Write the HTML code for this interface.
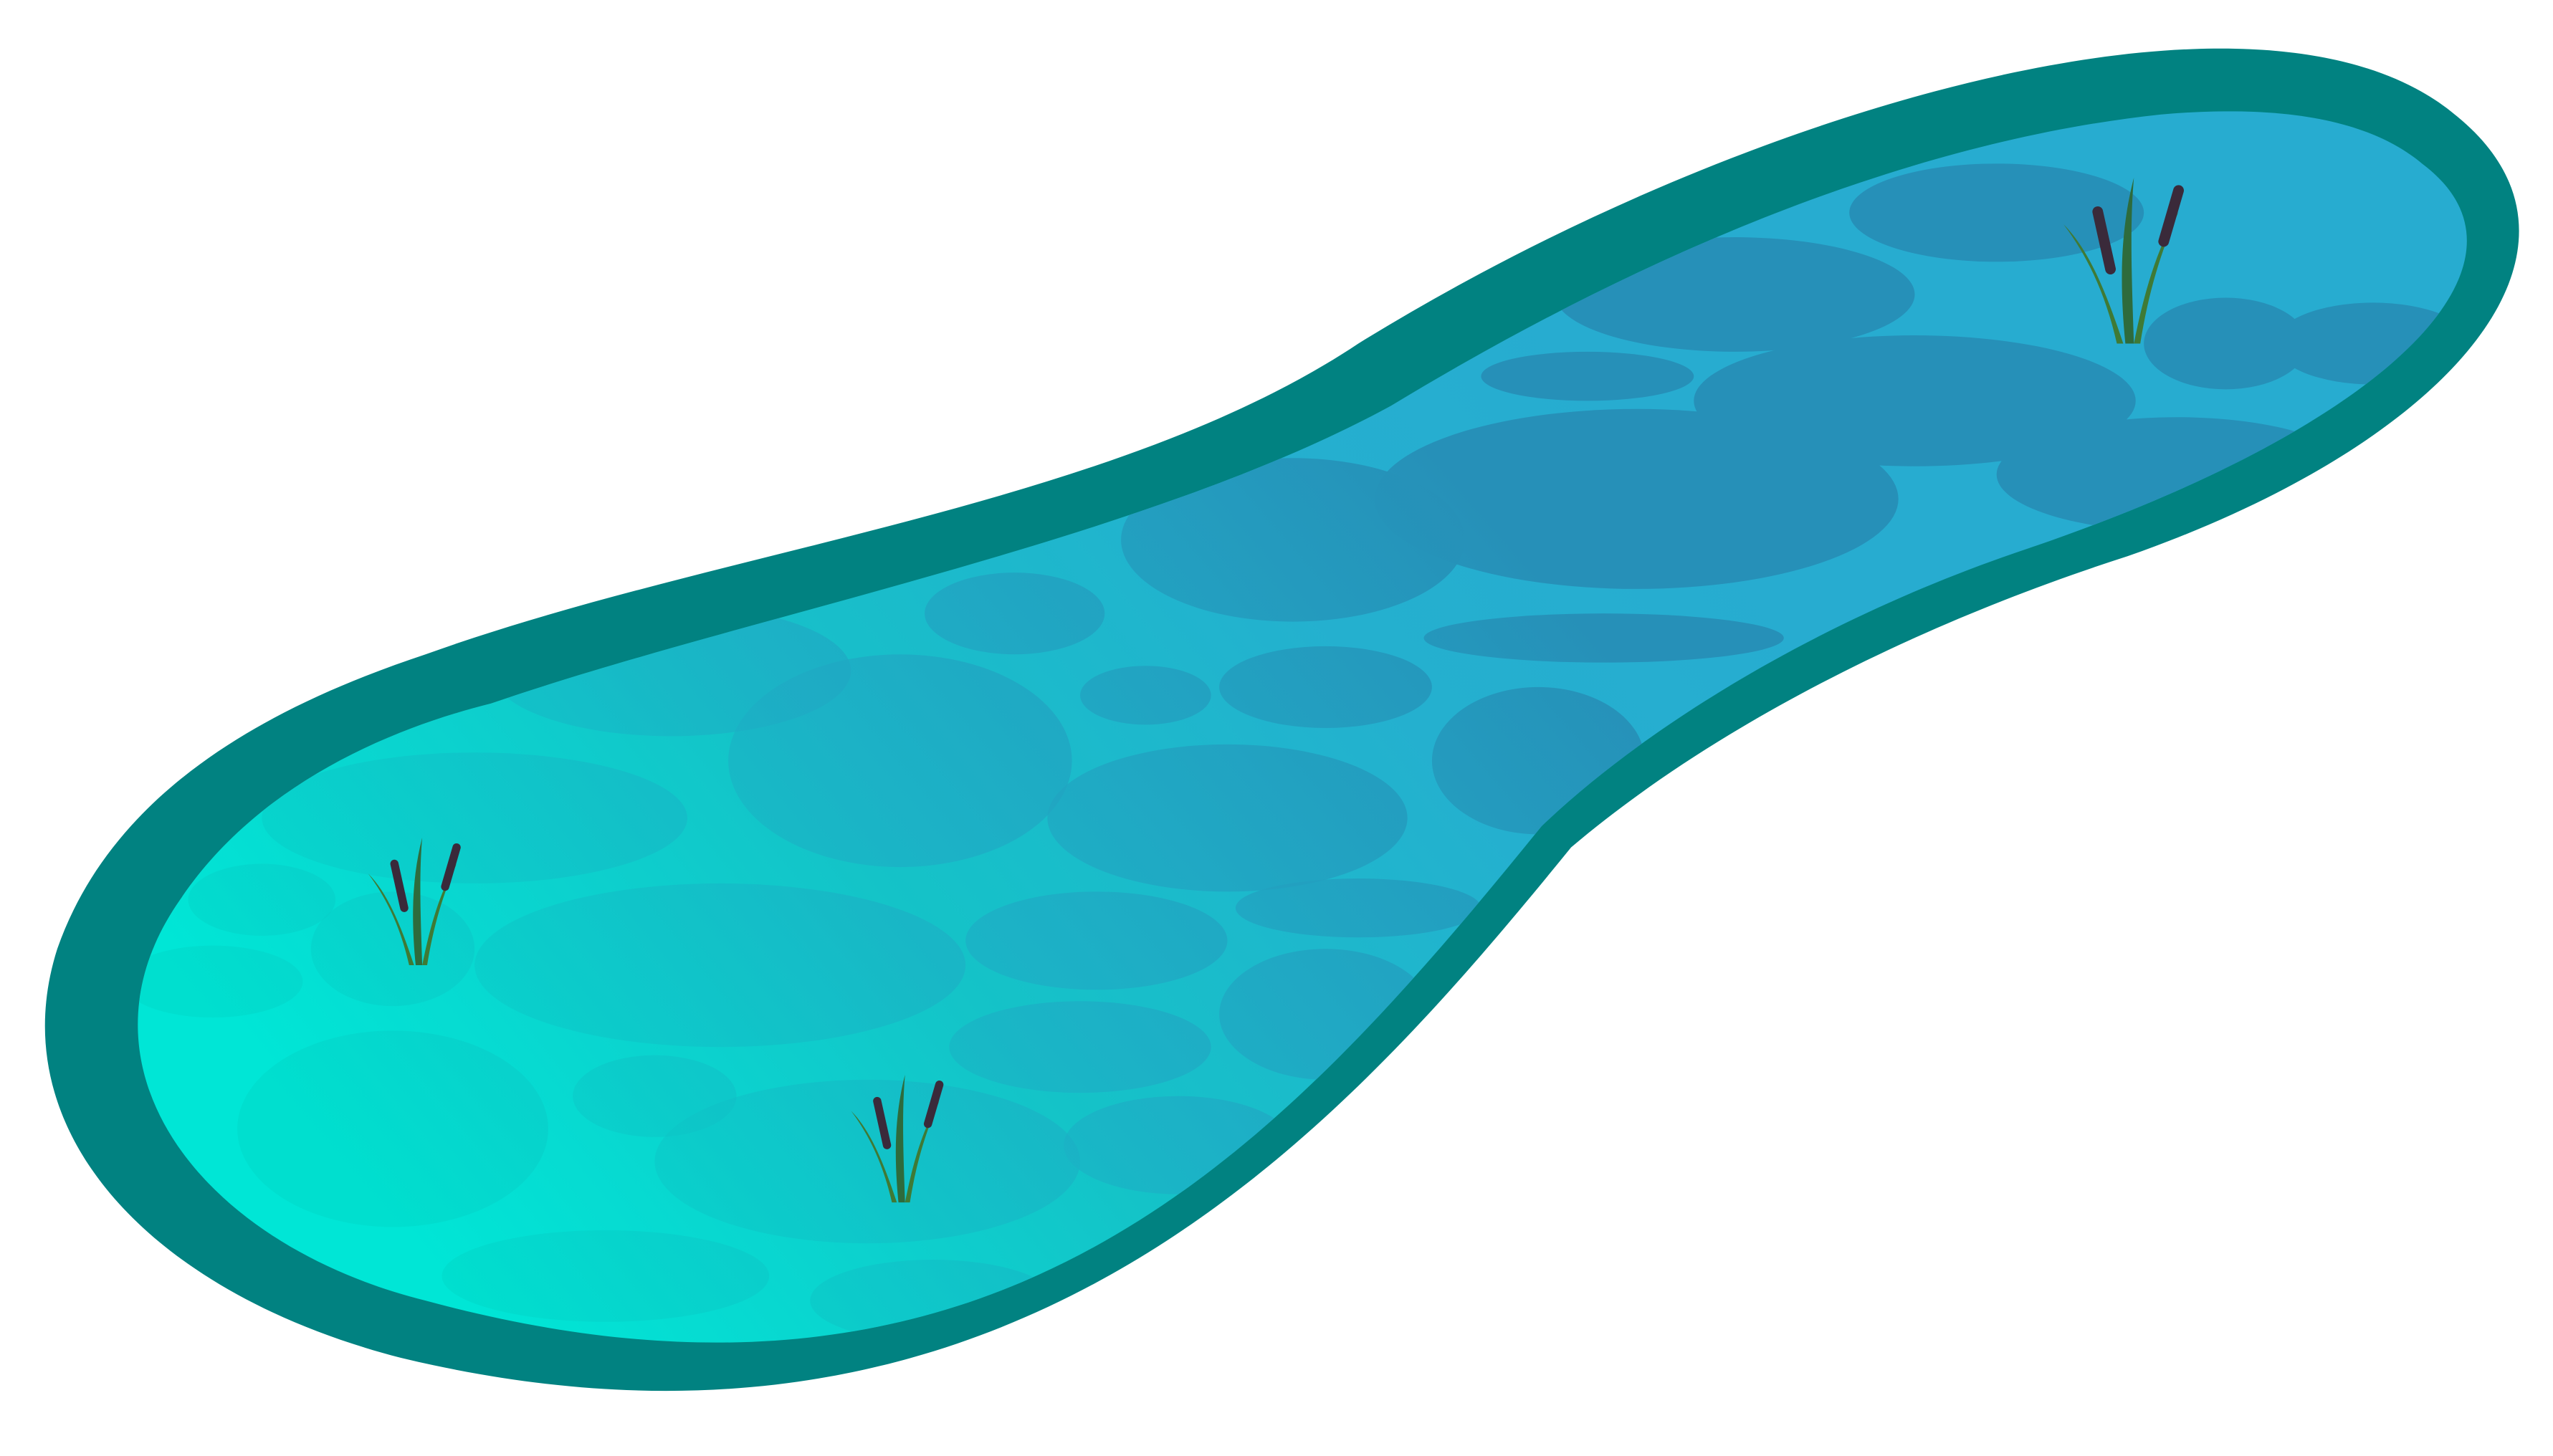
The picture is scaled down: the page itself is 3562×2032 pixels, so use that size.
<!DOCTYPE html>
<html><head><meta charset="utf-8"><style>
html,body{margin:0;padding:0;background:#fff;}
svg{display:block;}
</style></head><body>
<svg width="3562" height="2032" viewBox="0 0 1560 890" preserveAspectRatio="none" xmlns="http://www.w3.org/2000/svg">
<defs>
<linearGradient id="water" x1="300" y1="820" x2="1000" y2="250" gradientUnits="userSpaceOnUse">
<stop offset="0" stop-color="#00e6d6"/>
<stop offset="0.4" stop-color="#14c3c8"/>
<stop offset="0.75" stop-color="#24b0cf"/>
<stop offset="1" stop-color="#27acd0"/>
</linearGradient>
<linearGradient id="stone" x1="300" y1="820" x2="900" y2="300" gradientUnits="userSpaceOnUse">
<stop offset="0" stop-color="#00d8c8" stop-opacity="0.5"/>
<stop offset="0.5" stop-color="#1fa9c4" stop-opacity="0.6"/>
<stop offset="1" stop-color="#2690b8" stop-opacity="1"/>
</linearGradient>
<clipPath id="inner"><path d="M 260,795 C 120,760 40,650 110,550 C 150,490 220,450 300,430 C 460,375 700,330 850,248 C 1020,145 1180,85 1320,70 C 1400,63 1450,75 1480,100 C 1560,160 1460,260 1240,335 C 1120,375 1010,440 942,505 C 780,705 610,890 260,795 Z"/></clipPath>
<g id="cattail">
<path d="M-1,0 C-4,-30 -3,-55 3,-78 C1,-55 2,-30 3,0 Z" fill="#2e6b3c"/>
<path d="M3,0 C8,-25 14,-45 24,-62 C16,-44 10,-25 6,0 Z" fill="#3f7a35"/>
<path d="M-5,0 C-10,-22 -18,-40 -30,-56 C-18,-44 -10,-24 -2,0 Z" fill="#3f7a35"/>
<line x1="-8" y1="-35" x2="-14" y2="-62" stroke="#3a2a3a" stroke-width="5" stroke-linecap="round"/>
<line x1="17" y1="-48" x2="24" y2="-72" stroke="#3a2a3a" stroke-width="5" stroke-linecap="round"/>
</g>
</defs>
<path fill="#018281" d="M 245,830 C 90,790 0,690 35,580 C 70,480 170,430 260,400 C 440,335 680,310 830,210 C 1000,105 1200,35 1340,30 C 1420,27 1470,45 1500,70 C 1600,150 1500,270 1300,340 C 1160,385 1040,450 960,518 C 820,690 620,920 245,830 Z"/>
<g clip-path="url(#inner)">
<rect x="0" y="0" width="1560" height="890" fill="url(#water)"/>
<g fill="url(#stone)">
<ellipse cx="1220" cy="130" rx="90" ry="30"/>
<ellipse cx="1060" cy="180" rx="110" ry="35"/>
<ellipse cx="1170" cy="245" rx="135" ry="40"/>
<ellipse cx="1360" cy="210" rx="50" ry="28"/>
<ellipse cx="1450" cy="210" rx="60" ry="25"/>
<ellipse cx="1330" cy="290" rx="110" ry="35"/>
<ellipse cx="1000" cy="305" rx="160" ry="55"/>
<ellipse cx="970" cy="230" rx="65" ry="15"/>
<ellipse cx="790" cy="330" rx="105" ry="50"/>
<ellipse cx="980" cy="390" rx="110" ry="15"/>
<ellipse cx="940" cy="465" rx="65" ry="45"/>
<ellipse cx="810" cy="420" rx="65" ry="25"/>
<ellipse cx="620" cy="375" rx="55" ry="25"/>
<ellipse cx="700" cy="425" rx="40" ry="18"/>
<ellipse cx="750" cy="500" rx="110" ry="45"/>
<ellipse cx="550" cy="465" rx="105" ry="65"/>
<ellipse cx="410" cy="410" rx="110" ry="40"/>
<ellipse cx="290" cy="500" rx="130" ry="40"/>
<ellipse cx="440" cy="590" rx="150" ry="50"/>
<ellipse cx="670" cy="575" rx="80" ry="30"/>
<ellipse cx="830" cy="555" rx="75" ry="18"/>
<ellipse cx="810" cy="620" rx="65" ry="40"/>
<ellipse cx="660" cy="640" rx="80" ry="28"/>
<ellipse cx="530" cy="710" rx="130" ry="50"/>
<ellipse cx="240" cy="690" rx="95" ry="60"/>
<ellipse cx="400" cy="670" rx="50" ry="25"/>
<ellipse cx="370" cy="780" rx="100" ry="28"/>
<ellipse cx="570" cy="795" rx="75" ry="25"/>
<ellipse cx="720" cy="700" rx="70" ry="30"/>
<ellipse cx="240" cy="580" rx="50" ry="35"/>
<ellipse cx="160" cy="550" rx="45" ry="22"/>
<ellipse cx="130" cy="600" rx="55" ry="22"/>
</g>
</g>
<use href="#cattail" transform="translate(255,590)"/>
<use href="#cattail" transform="translate(550,735)"/>
<use href="#cattail" transform="translate(1300,210) scale(1.3)"/>
</svg>
</body></html>
